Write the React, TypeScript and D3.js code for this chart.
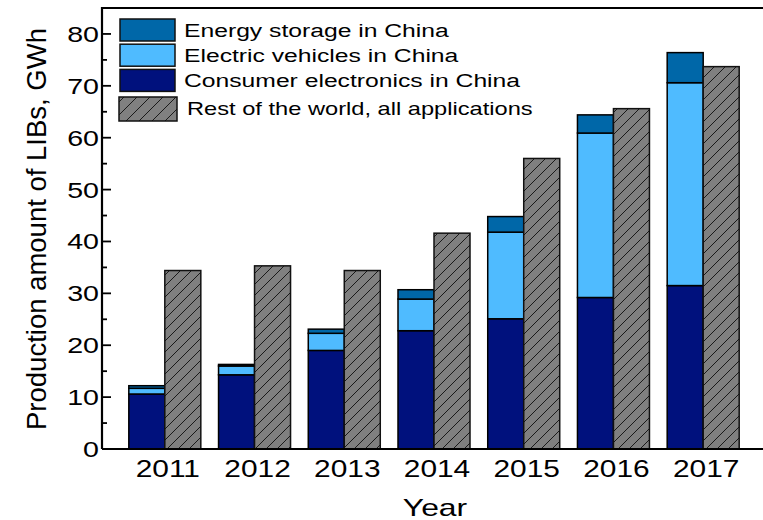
import React from "react";
import * as d3 from "d3";

const years = ["2011", "2012", "2013", "2014", "2015", "2016", "2017"];
const consumerElectronics = [10.6, 14.3, 19.0, 22.8, 25.1, 29.2, 31.5];
const electricVehicles = [1.1, 1.7, 3.3, 6.1, 16.7, 31.7, 39.1];
const energyStorage = [0.5, 0.3, 0.8, 1.8, 3.0, 3.5, 5.8];
const restOfWorld = [34.4, 35.3, 34.4, 41.6, 56.0, 65.6, 73.7];
const yTicks = [0, 10, 20, 30, 40, 50, 60, 70, 80];
const yMinorTicks = [5, 15, 25, 35, 45, 55, 65, 75, 85];

const seriesKeys = ["ce", "ev", "es"];
const seriesColors: Record<string, string> = { ce: "#00117D", ev: "#4FBBFF", es: "#0067A8" };
const legendItems = [
  { label: "Energy storage in China", fill: "#0067A8" },
  { label: "Electric vehicles in China", fill: "#4FBBFF" },
  { label: "Consumer electronics in China", fill: "#00117D" },
  { label: "Rest of the world, all applications", fill: "url(#hatchLegend)" },
];

const W = 763;
const H = 520;
const FONT = "'Liberation Sans', Arial, Helvetica, sans-serif";
const SX = 1.3;

export default function App() {
  const left = 102;
  const bottom = 449;
  const top = 8;
  const x = d3.scalePoint<string>().domain(years).range([left, 766]).padding(0.7);
  const y = d3.scaleLinear().domain([0, 85]).range([bottom, top]);
  const bw = 36;

  const rows = years.map((yr, i) => ({
    year: yr,
    ce: consumerElectronics[i],
    ev: electricVehicles[i],
    es: energyStorage[i],
  }));
  const stacked = d3.stack<any>().keys(seriesKeys)(rows);

  return (
    <svg width={W} height={H} style={{ position: "absolute", left: 0, top: 0, background: "#fff" }}>
      <defs>
        <pattern id="hatch" patternUnits="userSpaceOnUse" width="11" height="11">
          <rect width="11" height="11" fill="#808080" />
          <path d="M-1,12 L12,-1 M-3,3 L3,-3 M8,14 L14,8" stroke="#1a1a1a" strokeWidth="1" />
        </pattern>
        <pattern id="hatchLegend" patternUnits="userSpaceOnUse" width="13" height="13">
          <rect width="13" height="13" fill="#808080" />
          <path d="M-1,14 L14,-1 M-3,3 L3,-3 M10,16 L16,10" stroke="#1a1a1a" strokeWidth="1" />
        </pattern>
      </defs>

      {/* stacked China bars */}
      {stacked.map((s) => (
        <g key={s.key}>
          {s.map((d, i) => (
            <rect
              key={i}
              x={(x(years[i]) as number) - bw}
              y={y(d[1])}
              width={bw}
              height={y(d[0]) - y(d[1])}
              fill={seriesColors[s.key]}
              stroke="#000"
              strokeWidth={1.5}
            />
          ))}
        </g>
      ))}

      {/* rest of world */}
      {restOfWorld.map((v, i) => (
        <rect
          key={i}
          x={x(years[i]) as number}
          y={y(v)}
          width={bw}
          height={y(0) - y(v)}
          fill="url(#hatch)"
          stroke="#111"
          strokeWidth={1.5}
        />
      ))}

      {/* frame */}
      <path d={`M${left},${bottom} L${left},${top} L${W + 5},${top}`} fill="none" stroke="#000" strokeWidth={2.2} />
      <line x1={left} x2={W + 5} y1={bottom} y2={bottom} stroke="#000" strokeWidth={2.2} />

      {/* y ticks */}
      {yTicks.map((t) => (
        <g key={t}>
          <line x1={left} x2={left + 9} y1={y(t)} y2={y(t)} stroke="#000" strokeWidth={1.8} />
          <text
            transform={`translate(${left - 3},${y(t) + 8}) scale(${SX},1)`}
            textAnchor="end"
            fontFamily={FONT}
            fontSize={22}
            fill="#000"
          >
            {t}
          </text>
        </g>
      ))}
      {yMinorTicks.filter((t) => y(t) > top + 2).map((t) => (
        <line key={t} x1={left} x2={left + 5} y1={y(t)} y2={y(t)} stroke="#000" strokeWidth={1.8} />
      ))}

      {/* x labels */}
      {years.map((yr) => (
        <text
          key={yr}
          transform={`translate(${(x(yr) as number) + 3},477) scale(${SX},1)`}
          textAnchor="middle"
          fontFamily={FONT}
          fontSize={23}
          fill="#000"
        >
          {yr}
        </text>
      ))}

      {/* axis titles */}
      <text
        transform={`translate(435,516) scale(1.33,1)`}
        textAnchor="middle"
        fontFamily={FONT}
        fontSize={24}
        fill="#000"
      >
        Year
      </text>
      <text
        transform={`translate(46,229) rotate(-90)`}
        textAnchor="middle"
        fontFamily={FONT}
        fontSize={27.5}
        fill="#000"
      >
        Production amount of LIBs, GWh
      </text>

      {/* legend */}
      {legendItems.map((it, i) => {
        const by = i < 3 ? 19 + i * 25.2 : 97;
        const bwid = i < 3 ? 55 : 58;
        const bh = i < 3 ? 22 : 24;
        const bx = i < 3 ? 120 : 119;
        return (
          <g key={it.label}>
            <rect x={bx} y={by} width={bwid} height={bh} fill={it.fill} stroke="#111" strokeWidth={1.5} />
            <text
              transform={`translate(${i < 3 ? 184 : 187},${by + 18}) scale(${SX},1)`}
              fontFamily={FONT}
              fontSize={i < 3 ? 19 : 18.2}
              fill="#000"
            >
              {it.label}
            </text>
          </g>
        );
      })}
    </svg>
  );
}
